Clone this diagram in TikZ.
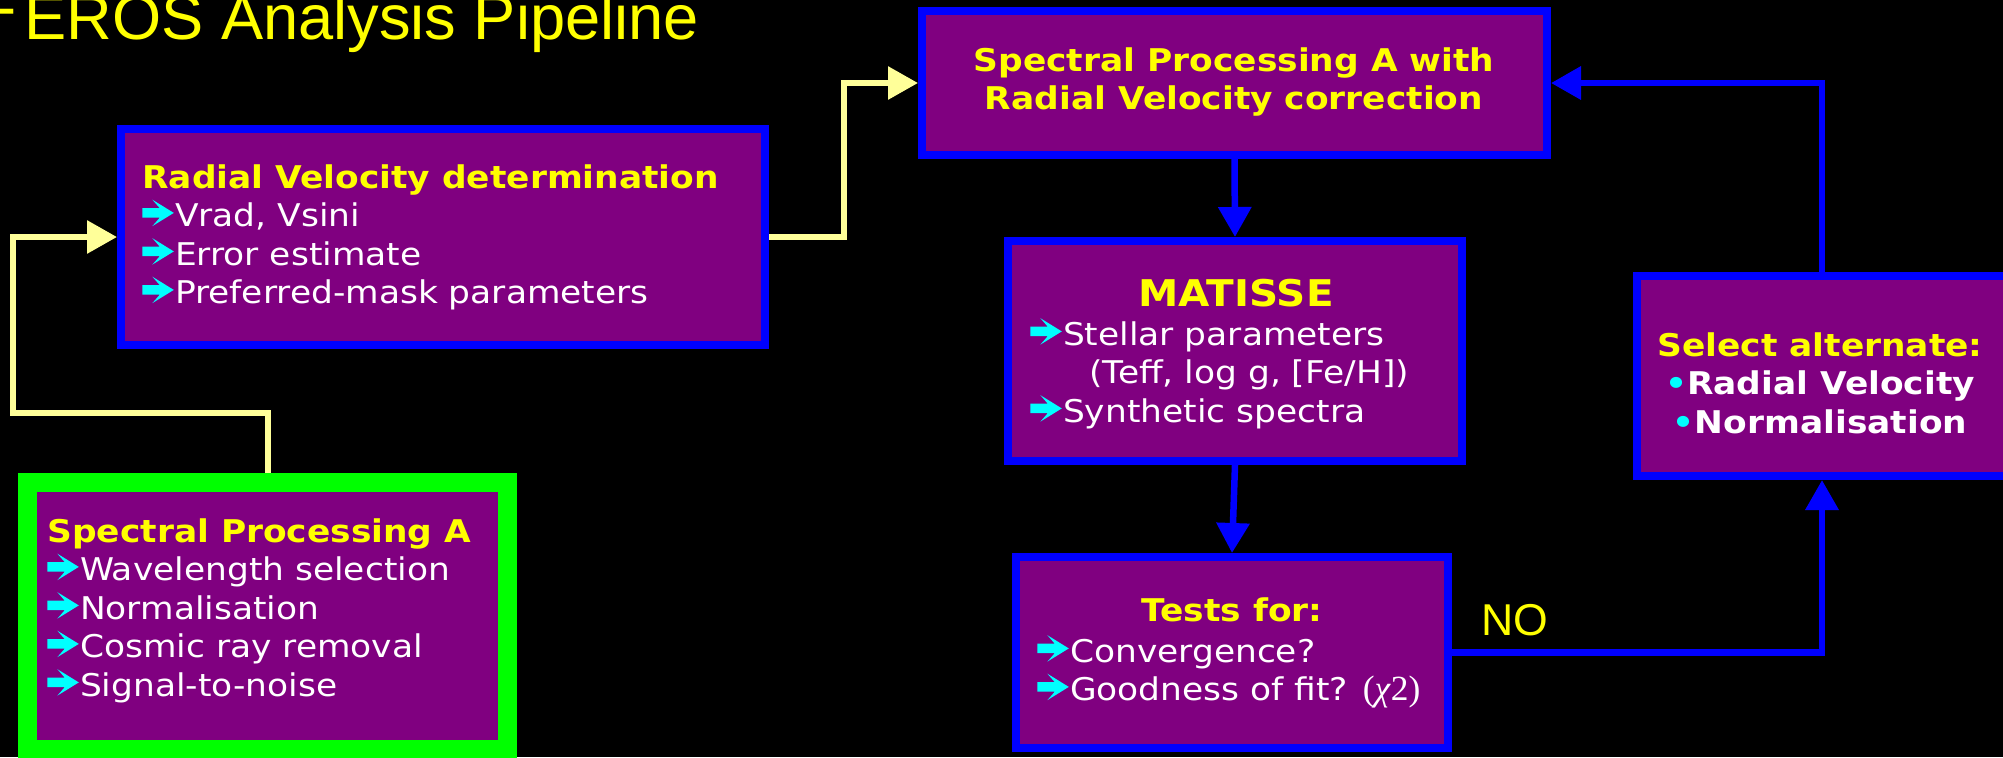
\documentclass[tikz,border=0pt]{standalone}
\usepackage{fontspec}
\usetikzlibrary{arrows.meta}
\newfontfamily\vf[FakeStretch=1.10]{DejaVu Sans}
\newfontfamily\arialf{Liberation Sans}
\newfontfamily\tnr{Liberation Serif}
\definecolor{pp}{HTML}{800080}
\definecolor{bl}{HTML}{0000FF}
\definecolor{gr}{HTML}{00FF00}
\definecolor{yl}{HTML}{FFFF00}
\definecolor{cy}{HTML}{00FFFF}
\definecolor{py}{HTML}{FFFF99}
\newcommand\body{\vf\fontsize{15.65pt}{19.25pt}\selectfont}
\newcommand\arr{\tikz[baseline=0pt,x=1pt,y=1pt]{\fill[cy] (0,4.6)--(0,9.4)--(8.65,9.4)--(5,13.6)--(15.7,7)--(5,0.4)--(8.65,4.6)--cycle; \path (0,0) rectangle (16.35,0);}}
\newcommand\bul{\textcolor{cy}{•}}
\newcommand\fst{\rule{0pt}{14pt}}
\begin{document}
\begin{tikzpicture}[x=0.5pt,y=-0.5pt,
 box/.style={draw=bl, fill=pp, line width=4pt, inner sep=0},
 gbox/.style={draw=gr, fill=pp, line width=9.5pt, inner sep=0},
 txt/.style={inner sep=0, text=white, font=\body, align=left, anchor=north west},
 ctxt/.style={inner sep=0, text=white, font=\body\bfseries, align=center, anchor=north},
 bline/.style={draw=bl, line width=3.25pt, line join=miter, -{Triangle[length=15pt,width=16pt]}},
 yline/.style={draw=py, line width=3pt, line join=miter, -{Triangle[length=15pt,width=16pt]}},
]
\useasboundingbox (0,0) rectangle (2003,757);
\fill[black] (0,0) rectangle (2003,757);
\clip (0,0) rectangle (2003,757);

% boxes
\node[box, minimum width=322pt, minimum height=108pt] (rv) at (443,237) {};
\node[box, minimum width=312.5pt, minimum height=72pt] (top) at (1234.5,83) {};
\node[box, minimum width=227pt, minimum height=110pt] (mat) at (1235,351) {};
\node[box, minimum width=216pt, minimum height=95.5pt] (tst) at (1232,652.5) {};
\node[box, minimum width=185pt, minimum height=100pt] (sel) at (1822,376) {};
\node[gbox, minimum width=240pt, minimum height=133.5pt] (spa) at (267.5,616) {};

% texts
\node[inner sep=0, text=yl, font=\arialf\fontsize{31.6pt}{36pt}\selectfont, anchor=base west] (ttl) at (24,39) {\llap{\raisebox{5.5pt}{-}\hspace{4pt}}EROS Analysis Pipeline};

\node[txt] (rvt) at (142,160) {\fst\textcolor{yl}{\bfseries Radial Velocity determination}\\\arr Vrad, Vsini\\\arr Error estimate\\\arr Preferred-mask parameters};

\node[txt] (spat) at (47,514) {\fst\textcolor{yl}{\bfseries Spectral Processing A}\\\arr Wavelength selection\\\arr Normalisation\\\arr Cosmic ray removal\\\arr Signal-to-noise};

\node[ctxt, text=yl] (topt) at (1234,43) {\fst Spectral Processing A with\\Radial Velocity correction};

\node[inner sep=0, text=yl, font=\vf\fontsize{18.4pt}{20pt}\selectfont\bfseries, anchor=base] (matt) at (1236,306) {MATISSE};
\node[txt] (matb) at (1030,317) {\fst\arr Stellar parameters\\\hspace*{29.5pt}(Teff, log g, [Fe/H])\\\arr Synthetic spectra};

\node[inner sep=0, text=yl, font=\body\bfseries, anchor=base] (tstt) at (1232,621) {Tests for:};
\node[txt] (tstb) at (1037,634) {\fst\arr Convergence?\\\arr Goodness of fit? {\tnr\fontsize{17.7pt}{19.25pt}\selectfont(\textit{χ}2)}};

\node[ctxt] (selt) at (1820,328) {\fst\textcolor{yl}{Select alternate:}\\\bul Radial Velocity\\\bul Normalisation};

\node[inner sep=0, text=yl, font=\arialf\fontsize{22.3pt}{26pt}\selectfont, anchor=base west] (no) at (1481,635) {NO};

% connectors
\coordinate (c1) at (13,413);
\coordinate (c2) at (844,83);
\draw[yline] (spa.north) |- (c1) |- (rv.west);
\draw[yline] (rv.east) -| (c2) -- (top.west);
\draw[bline] (top.south) -- (mat.north);
\draw[bline] (mat.south) -- (tst.north);
\draw[bline] (tst.east) -| (sel.south);
\draw[bline] (sel.north) |- (top.east);
\end{tikzpicture}
\end{document}
